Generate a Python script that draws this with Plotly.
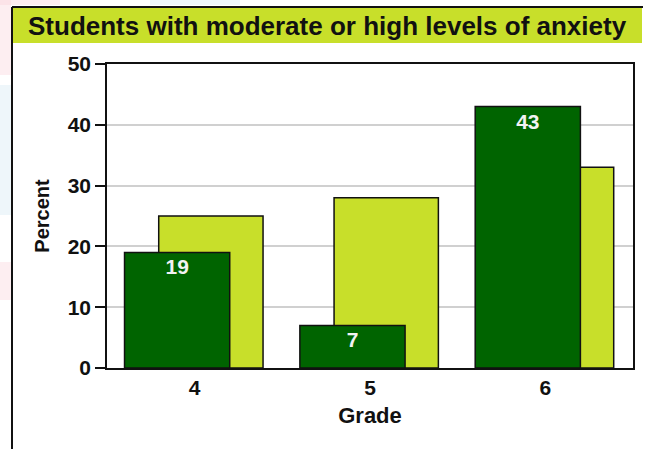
import plotly.graph_objects as go

grades = ["4", "5", "6"]
series_dark = [19, 7, 43]
series_light = [25, 28, 33]
y_ticks = [0, 10, 20, 30, 40, 50]
title_text = "Students with moderate or high levels of anxiety"

DARK = "#006400"
LIGHT = "#c8df2a"
FONT = "Liberation Sans, Arial, sans-serif"

W, H = 647, 449
L, R, T, B = 107, 14, 64, 81
PW, PH = W - L - R, H - T - B


def px(x):
    return (x - L) / PW


def py(y):
    return (H - B - y) / PH


fig = go.Figure()
fig.add_trace(go.Bar(
    x=grades, y=series_light, marker=dict(color=LIGHT, line=dict(color="#111", width=1.5)),
    offset=-0.205, width=0.595, hoverinfo="y", showlegend=False,
))
fig.add_trace(go.Bar(
    x=grades, y=series_dark, marker=dict(color=DARK, line=dict(color="#111", width=1.5)),
    offset=-0.4, width=0.6, text=[str(v) for v in series_dark],
    textposition="inside", insidetextanchor="end", textangle=0,
    textfont=dict(family=FONT, size=21, color="#f2f2f2", weight="bold"),
    hoverinfo="y", showlegend=False,
))

wm = [
    (0, 11, 0, 75, "rgba(250,205,215,0.35)"),
    (0, 11, 85, 215, "rgba(205,230,242,0.35)"),
    (0, 11, 262, 300, "rgba(250,205,215,0.35)"),
    (0, 60, 0, 5, "rgba(250,205,215,0.35)"),
    (150, 240, 0, 5, "rgba(205,230,242,0.35)"),
]
shapes = [
    dict(type="rect", xref="paper", yref="paper", x0=px(a), x1=px(b), y0=py(d), y1=py(c),
         fillcolor=col, line=dict(width=0), layer="below")
    for a, b, c, d, col in wm
]
shapes += [
    dict(type="rect", xref="paper", yref="paper",
         x0=px(12), x1=px(642), y0=py(43), y1=py(8),
         fillcolor=LIGHT, line=dict(width=0), layer="below"),
    dict(type="line", xref="paper", yref="paper",
         x0=px(12), x1=px(643), y0=py(7), y1=py(7),
         line=dict(color="#111", width=2)),
    dict(type="line", xref="paper", yref="paper",
         x0=px(12), x1=px(12), y0=py(7), y1=py(H),
         line=dict(color="#111", width=2)),
]

fig.update_layout(
    width=W, height=H,
    margin=dict(l=L, r=R, t=T, b=B),
    paper_bgcolor="white", plot_bgcolor="white",
    barmode="overlay",
    font=dict(family=FONT, color="#111"),
    xaxis=dict(
        type="category", range=[-0.5, 2.5],
        showline=True, linecolor="#111", linewidth=1.5, mirror=True,
        showgrid=False, ticks="",
        tickfont=dict(family=FONT, size=21, color="#111", weight="bold"),
        title=dict(text="Grade", font=dict(family=FONT, size=22, color="#111", weight="bold"), standoff=10),
    ),
    yaxis=dict(
        range=[0, 50], tickvals=y_ticks,
        showline=True, linecolor="#111", linewidth=1.5, mirror=True,
        showgrid=True, gridcolor="#d0d0d0", gridwidth=2,
        ticks="outside", ticklen=10, tickwidth=1.5, tickcolor="#111",
        tickfont=dict(family=FONT, size=21, color="#111", weight="bold"),
        zeroline=False,
        title=dict(text="Percent", font=dict(family=FONT, size=20, color="#111", weight="bold"), standoff=13),
    ),
    shapes=shapes,
    annotations=[
        dict(text=title_text, xref="paper", yref="paper", x=px(26), y=py(26),
             xanchor="left", yanchor="middle", showarrow=False,
             font=dict(family=FONT, size=26, color="#111", weight="bold")),
    ],
)

fig.write_html("out.html", config={"displayModeBar": False},
               post_script="document.body.style.margin='0';document.body.style.overflow='hidden';")
